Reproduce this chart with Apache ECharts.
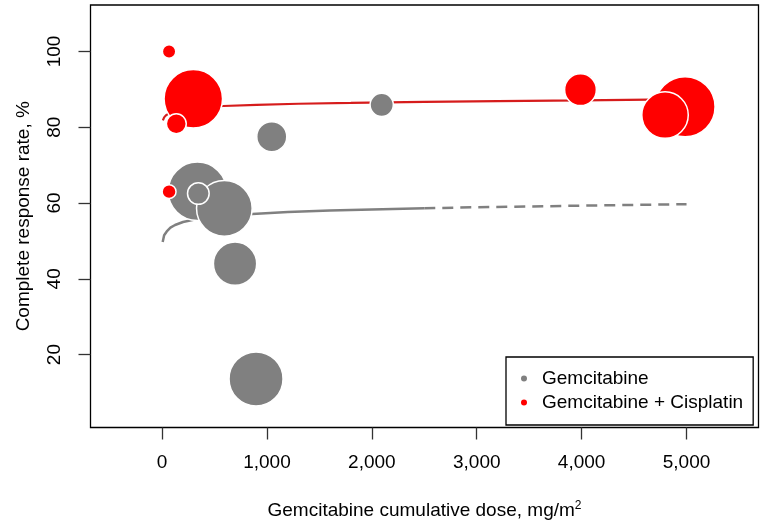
<!DOCTYPE html>
<html>
<head>
<meta charset="utf-8">
<script src="https://cdn.jsdelivr.net/npm/echarts@6/dist/echarts.min.js"></script>
<style>
html,body{margin:0;padding:0;background:#fff;}
#chart{width:765px;height:525px;}
</style>
</head>
<body>
<div id="chart"></div>
<script>
// ---- data ----
var xTicks = [0, 1000, 2000, 3000, 4000, 5000];
var yTicks = [20, 40, 60, 80, 100];
// [dose, complete response rate %, sample size]
var gemStudies = [
  [2094, 85.9, 15],
  [1046, 77.5, 25],
  [337, 63.1, 95],
  [594, 58.6, 86],
  [346, 62.5, 13],
  [696, 44.0, 52],
  [896, 13.6, 81]
];
var gemCisStudies = [
  [67, 100, 5],
  [298, 87.5, 95],
  [136, 80.9, 11],
  [67, 63.0, 5.4],
  [3989, 89.9, 28],
  [4986, 85.4, 100],
  [4795, 83.2, 60]
];
// fitted curves
var gemFitSolid = [[6,49.7],[20,51.5],[45,52.5],[80,53.5],[124,54.2],[200,55.0],[300,55.6],[450,56.3],[600,56.7],[860,57.1],[1200,57.6],[1600,58.0],[2000,58.3],[2500,58.6]];
var gemFitDashed = [[2500,58.6],[3000,58.9],[3500,59.1],[4000,59.3],[4500,59.5],[5000,59.7]];
var gemCisFit = [[8,81.8],[20,82.6],[40,83.2],[70,83.7],[120,84.3],[200,84.7],[350,85.2],[585,85.6],[900,85.9],[1300,86.2],[1800,86.4],[2500,86.7],[3200,86.9],[4000,87.1],[4650,87.3],[5000,87.3]];

var FONT = 'Liberation Sans, Arial, sans-serif';
var GRAY = '#808080', RED = '#ff0000';

function bubbleSize(d){ return 6 * Math.sqrt(d[2]); }

var chart = echarts.init(document.getElementById('chart'), null, {renderer:'canvas'});
chart.setOption({
  animation: false,
  backgroundColor: '#fff',
  textStyle: {fontFamily: FONT},
  grid: {left: 90.5, right: 6.5, top: 5, bottom: 95, show: true, borderColor: '#000', borderWidth: 1.3, backgroundColor: 'transparent'},
  xAxis: {
    type: 'value', min: -682, max: 5686,
    name: 'Gemcitabine cumulative dose, mg/m{sup|2}',
    nameLocation: 'middle', nameGap: 72,
    nameTextStyle: {fontSize: 19, color: '#000', fontFamily: FONT,
      rich: {sup: {fontSize: 12, verticalAlign: 'top', padding: [0,0,10,0], fontFamily: FONT, color:'#000'}}},
    axisLine: {show: false, onZero: false},
    splitLine: {show: false},
    axisTick: {show: true, length: 12, customValues: xTicks, lineStyle: {color: '#333', width: 1.3}},
    axisLabel: {customValues: xTicks, margin: 26, fontSize: 19, color: '#000', fontFamily: FONT,
      formatter: function(v){ return Number(v).toLocaleString('en-US'); }}
  },
  yAxis: {
    type: 'value', min: 0.77, max: 112.25,
    name: 'Complete response rate, %',
    nameLocation: 'middle', nameGap: 57,
    nameTextStyle: {fontSize: 19, color: '#000', fontFamily: FONT},
    axisLine: {show: false, onZero: false},
    splitLine: {show: false},
    axisTick: {show: true, length: 12, customValues: yTicks, lineStyle: {color: '#333', width: 1.3}},
    axisLabel: {customValues: yTicks, margin: 26, rotate: 90, fontSize: 19, color: '#000', fontFamily: FONT}
  },
  legend: {
    data: ['Gemcitabine', 'Gemcitabine + Cisplatin'],
    orient: 'vertical', left: 506, top: 357,
    icon: 'circle', itemWidth: 8, itemHeight: 8, itemGap: 5,
    padding: [12, 10, 13, 13],
    borderColor: '#000', borderWidth: 1.3, backgroundColor: '#fff',
    selectedMode: false,
    textStyle: {fontSize: 19, color: '#000', fontFamily: FONT, padding: [0,0,0,9]}
  },
  series: [
    {name: 'gemFit', type: 'line', data: gemFitSolid, showSymbol: false, silent: true,
     lineStyle: {color: GRAY, width: 2.5}, z: 2},
    {name: 'gemFitDash', type: 'line', data: gemFitDashed, showSymbol: false, silent: true,
     lineStyle: {color: GRAY, width: 2.5, type: [11, 7]}, z: 2},
    {name: 'Gemcitabine', type: 'scatter', data: gemStudies, symbolSize: bubbleSize, silent: true,
     itemStyle: {color: GRAY, opacity: 1, borderColor: '#fff', borderWidth: 1.5}, z: 2},
    {name: 'gemCisFit', type: 'line', data: gemCisFit, showSymbol: false, silent: true,
     lineStyle: {color: '#d61c1c', width: 2.2}, z: 2},
    {name: 'Gemcitabine + Cisplatin', type: 'scatter', data: gemCisStudies, symbolSize: bubbleSize, silent: true,
     itemStyle: {color: RED, opacity: 1, borderColor: '#fff', borderWidth: 1.5}, z: 2}
  ]
});
</script>
</body>
</html>
